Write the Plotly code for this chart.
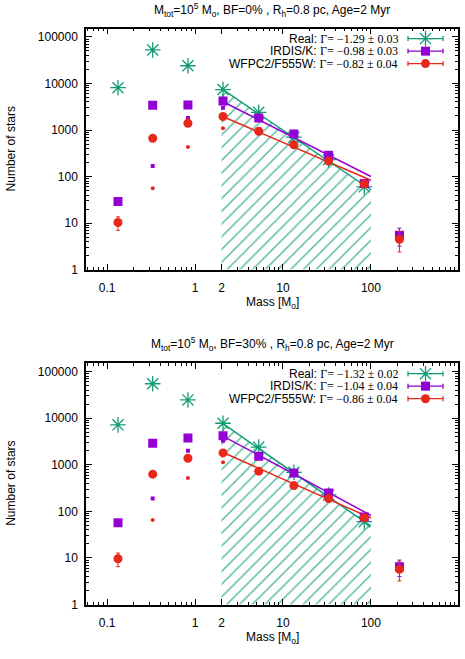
import plotly.graph_objects as go

# ---------------- data ----------------
mass = [0.133, 0.33, 0.83, 2.08, 5.3, 13.3, 33, 84, 211]
mass_real = mass[:8]
mass_small = [0.33, 0.83, 2.08]

# panel 1 : BF = 0%
real_1 = [8100, 52500, 24000, 7400, 2400, 700, 230, 60]
irdis_1 = [29, 3400, 3450, 4200, 1800, 820, 285, 71, 5.5]
irdis_1_err = [5, 58, 59, 65, 42, 29, 17, 8, 2.3]
wfpc_1 = [10.3, 665, 1400, 1950, 940, 480, 215, 69, 4.5]
wfpc_1_err = [3.3, 26, 37, 44, 31, 22, 15, 8, 2.1]
irdis_1_small = [168, 1800, 3000]
wfpc_1_small = [56, 430, 1090]

# panel 2 : BF = 30%
real_2 = [7200, 55000, 24700, 7800, 2400, 690, 225, 60]
irdis_2 = [57, 2900, 3760, 4200, 1520, 665, 248, 76, 6.5]
irdis_2_err = [7.5, 54, 61, 65, 39, 26, 16, 9, 2.5]
wfpc_2 = [9.6, 630, 1380, 1800, 730, 357, 188, 73, 5.7]
wfpc_2_err = [3.1, 25, 37, 42, 27, 19, 14, 8.5, 2.5]
irdis_2_small = [188, 1990, 3300]
wfpc_2_small = [65, 520, 1140]

# power-law fits (end points at 2 and 100 Msun)
fit_x = [2, 100]
fit_real_1 = [7700, 52]
fit_irdis_1 = [4200, 100]
fit_wfpc_1 = [2000, 83]
fit_real_2 = [8000, 48]
fit_irdis_2 = [4300, 82]
fit_wfpc_2 = [1900, 72]

titles = [
    "M<sub>tot</sub>=10<sup>5</sup> M<sub>o</sub>, BF=0% , R<sub>h</sub>=0.8 pc, Age=2 Myr",
    "M<sub>tot</sub>=10<sup>5</sup> M<sub>o</sub>, BF=30% , R<sub>h</sub>=0.8 pc, Age=2 Myr",
]
legend_1 = [("Real:", "Γ= −1.29 ± 0.03"), ("IRDIS/K:", "Γ= −0.98 ± 0.03"),
            ("WFPC2/F555W:", "Γ= −0.82 ± 0.04")]
legend_2 = [("Real:", "Γ= −1.32 ± 0.02"), ("IRDIS/K:", "Γ= −1.04 ± 0.04"),
            ("WFPC2/F555W:", "Γ= −0.86 ± 0.04")]
xtick_vals = [0.1, 1, 2, 10, 100]
xtick_text = ["0.1", "1", "2", "10", "100"]
ytick_vals = [1, 10, 100, 1000, 10000, 100000]
ytick_text = ["1", "10", "100", "1000", "10000", "100000"]

# ---------------- style ----------------
GREEN = "#129c76"
PURPLE = "#9400d3"
RED = "#e8281a"
FONT = "Liberation Sans"
SERIF = "Liberation Serif"
W, H = 465, 659

fig = go.Figure()

panels = [
    dict(x="x", y="y", real=real_1, irdis=irdis_1, ie=irdis_1_err, wfpc=wfpc_1, we=wfpc_1_err,
         irs=irdis_1_small, wfs=wfpc_1_small, fr=fit_real_1, fi=fit_irdis_1, fw=fit_wfpc_1),
    dict(x="x2", y="y2", real=real_2, irdis=irdis_2, ie=irdis_2_err, wfpc=wfpc_2, we=wfpc_2_err,
         irs=irdis_2_small, wfs=wfpc_2_small, fr=fit_real_2, fi=fit_irdis_2, fw=fit_wfpc_2),
]

for p in panels:
    ax = dict(xaxis=p["x"], yaxis=p["y"], showlegend=False, hoverinfo="skip")
    # hatched area under the Real fit
    fig.add_trace(go.Scatter(
        x=[fit_x[0], fit_x[0], fit_x[1], fit_x[1]],
        y=[1, p["fr"][0], p["fr"][1], 1],
        fill="toself", mode="none", fillcolor="rgba(0,0,0,0)",
        fillpattern=dict(shape="/", fgcolor=GREEN, fgopacity=0.7,
                         bgcolor="rgba(0,0,0,0)", size=9, solidity=0.17),
        **ax))
    # fits
    for fy, col in [(p["fr"], GREEN), (p["fi"], PURPLE), (p["fw"], RED)]:
        fig.add_trace(go.Scatter(x=fit_x, y=fy, mode="lines",
                                 line=dict(color=col, width=1.5), **ax))
    # small markers
    fig.add_trace(go.Scatter(x=mass_small, y=p["irs"], mode="markers",
                             marker=dict(symbol="square", size=4, color=PURPLE), **ax))
    fig.add_trace(go.Scatter(x=mass_small, y=p["wfs"], mode="markers",
                             marker=dict(symbol="circle", size=4, color=RED), **ax))
    # Real
    fig.add_trace(go.Scatter(x=mass_real, y=p["real"], mode="markers",
                             marker=dict(symbol="asterisk", size=13,
                                         line=dict(color=GREEN, width=1.3)), **ax))
    # IRDIS
    fig.add_trace(go.Scatter(x=mass, y=p["irdis"], mode="markers",
                             error_y=dict(type="data", array=p["ie"], color=PURPLE,
                                          thickness=1, width=2),
                             marker=dict(symbol="square", size=9, color=PURPLE), **ax))
    # WFPC2
    fig.add_trace(go.Scatter(x=mass, y=p["wfpc"], mode="markers",
                             error_y=dict(type="data", array=p["we"], color=RED,
                                          thickness=1, width=2),
                             marker=dict(symbol="circle", size=9, color=RED), **ax))

# ---------------- legend keys drawn on a pixel overlay ----------------
legend_rows = [[39, 51.7, 64.3], [377.7, 390.3, 403]]
key_x0, key_x1, key_mid, text_right = 408, 443, 425.5, 400
ov = dict(xaxis="x3", yaxis="y3", showlegend=False, hoverinfo="skip")
key_styles = [
    (GREEN, dict(symbol="asterisk", size=13, line=dict(color=GREEN, width=1.3))),
    (PURPLE, dict(symbol="square", size=9, color=PURPLE)),
    (RED, dict(symbol="circle", size=9, color=RED)),
]
annotations = []
for rows, texts in zip(legend_rows, [legend_1, legend_2]):
    for ry, (col, mk), (lab, gam) in zip(rows, key_styles, texts):
        fig.add_trace(go.Scatter(x=[key_x0, key_x1], y=[ry, ry], mode="lines",
                                 line=dict(color=col, width=1.3),
                                 error_y=dict(type="constant", value=2.5, color=col,
                                              thickness=1.3, width=0), **ov))
        fig.add_trace(go.Scatter(x=[key_mid], y=[ry], mode="markers", marker=mk, **ov))
        annotations.append(dict(
            x=text_right, y=ry, xref="x3", yref="y3", xanchor="right", yanchor="middle",
            showarrow=False,
            text=f'{lab} <span style="font-family:{SERIF}">{gam}</span>',
            font=dict(family=FONT, size=12, color="black")))

# titles / axis titles
for t, ty in zip(titles, [10, 348]):
    annotations.append(dict(x=272, y=ty, xref="x3", yref="y3", xanchor="center",
                            yanchor="middle", showarrow=False, text=t,
                            font=dict(family=FONT, size=12, color="black")))
for ty in [306, 645]:
    annotations.append(dict(x=272, y=ty, xref="x3", yref="y3", xanchor="center",
                            yanchor="middle", showarrow=False, text="Mass [M<sub>o</sub>]",
                            font=dict(family=FONT, size=12, color="black")))
for ty in [151, 489]:
    annotations.append(dict(x=11, y=ty, xref="x3", yref="y3", xanchor="center",
                            yanchor="middle", showarrow=False, text="Number of stars",
                            textangle=-90, font=dict(family=FONT, size=12, color="black")))

xdom = [86 / W, 458 / W]
ydom_1 = [1 - 272.5 / H, 1 - 29 / H]
ydom_2 = [1 - 611 / H, 1 - 367.3 / H]

xcommon = dict(type="log", range=[-1.24, 2.99], domain=xdom, showline=True,
               linecolor="black", linewidth=1.5, mirror="allticks", ticks="inside",
               ticklen=6, tickwidth=1, tickcolor="black", tickvals=xtick_vals,
               ticktext=xtick_text, showgrid=False, zeroline=False,
               ticklabelstandoff=6,
               minor=dict(ticks="inside", ticklen=3, tickwidth=1, tickcolor="black",
                          dtick="D1", showgrid=False),
               tickfont=dict(family=FONT, size=12, color="black"))
ycommon = dict(type="log", range=[0, 5.177], showline=True, linecolor="black",
               linewidth=1.5, mirror="allticks", ticks="inside", ticklen=6, tickwidth=1,
               tickcolor="black", tickvals=ytick_vals, ticktext=ytick_text,
               showgrid=False, zeroline=False, ticklabelstandoff=4,
               minor=dict(ticks="inside", ticklen=3, tickwidth=1, tickcolor="black",
                          dtick="D1", showgrid=False),
               tickfont=dict(family=FONT, size=12, color="black"))

fig.update_layout(
    width=W, height=H, margin=dict(l=0, r=0, t=0, b=0),
    paper_bgcolor="white", plot_bgcolor="rgba(0,0,0,0)",
    showlegend=False,
    xaxis=dict(**xcommon, anchor="y"),
    yaxis=dict(**ycommon, domain=ydom_1, anchor="x"),
    xaxis2=dict(**xcommon, anchor="y2"),
    yaxis2=dict(**ycommon, domain=ydom_2, anchor="x2"),
    xaxis3=dict(domain=[0, 1], range=[0, W], visible=False, anchor="y3", fixedrange=True),
    yaxis3=dict(domain=[0, 1], range=[H, 0], visible=False, anchor="x3", fixedrange=True),
    annotations=annotations,
    font=dict(family=FONT, size=12, color="black"),
)

fig.write_html("out.html")
